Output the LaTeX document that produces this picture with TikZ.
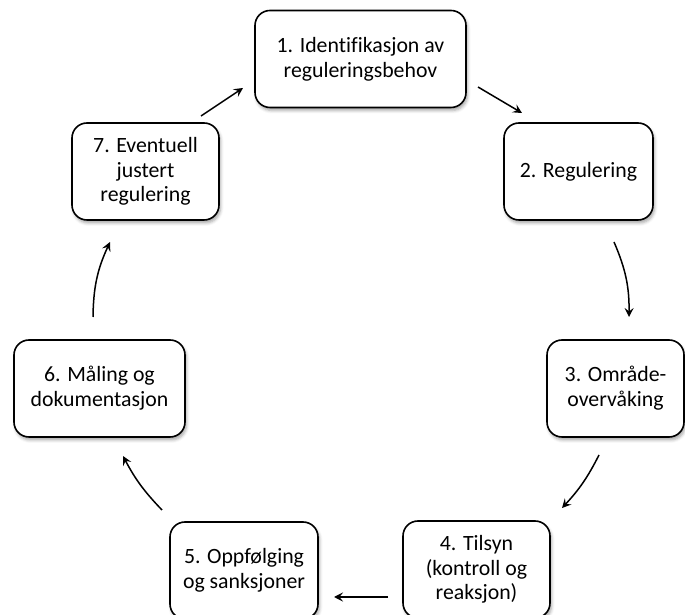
\documentclass[tikz,border=0pt]{standalone}
\usepackage{fontspec}
\setmainfont[Ligatures=NoCommon]{Carlito}
\usetikzlibrary{arrows.meta,shadows.blur}

\begin{document}
\begin{tikzpicture}[x=1pt,y=1pt,
    stage/.style={draw, line width=1.6pt, rounded corners=15pt, fill=white,
      minimum height=97pt, align=center, inner sep=2pt,
      font=\fontsize{21.8}{24.8}\selectfont,
      blur shadow={shadow xshift=1.5pt, shadow yshift=-3pt,
        shadow blur radius=3pt, shadow opacity=35}},
    flow/.style={-{Stealth[length=9pt,width=9pt,inset=3.5pt]}, line width=1.5pt}]
      \useasboundingbox (0,0) rectangle (685,615);

      %% the seven stages of the cycle
      \node[stage, minimum width=211pt] (s1) at (360.5,556)   {1. Identifikasjon av\\reguleringsbehov};
      \node[stage, minimum width=149pt] (s2) at (578.5,443.5) {2. Regulering};
      \node[stage, minimum width=137pt] (s3) at (615.5,226.5) {3. Område-\\overvåking};
      \node[stage, minimum width=147pt] (s4) at (476.5,45.5)  {4. Tilsyn\\(kontroll og\\reaksjon)};
      \node[stage, minimum width=148pt] (s5) at (244,44.5)    {5. Oppfølging\\og sanksjoner};
      \node[stage, minimum width=171pt] (s6) at (99.5,226.5)  {6. Måling og\\dokumentasjon};
      \node[stage, minimum width=147pt] (s7) at (145.5,443.5) {7. Eventuell\\justert\\regulering};

      %% arrow ends
      \coordinate (t12) at (478,528);  \coordinate (h12) at (522,502);
      \coordinate (t23) at (614,373);  \coordinate (h23) at (629,298);
      \coordinate (t34) at (599,160);  \coordinate (h34) at (562,107);
      \coordinate (t45) at (388,18);   \coordinate (h45) at (334,18);
      \coordinate (t56) at (162,105);  \coordinate (h56) at (123,159);
      \coordinate (t67) at (93,298);   \coordinate (h67) at (110,373);
      \coordinate (t71) at (201,499);  \coordinate (h71) at (243,527);

      %% arrows round the cycle
      \path[flow] (t12) edge                   (h12);
      \path[flow] (t23) edge [bend left=12]    (h23);
      \path[flow] (t34) edge [bend left=8]     (h34);
      \path[flow] (t45) edge                   (h45);
      \path[flow] (t56) edge [bend left=8]     (h56);
      \path[flow] (t67) edge [bend left=12]    (h67);
      \path[flow] (t71) edge                   (h71);
\end{tikzpicture}
\end{document}
